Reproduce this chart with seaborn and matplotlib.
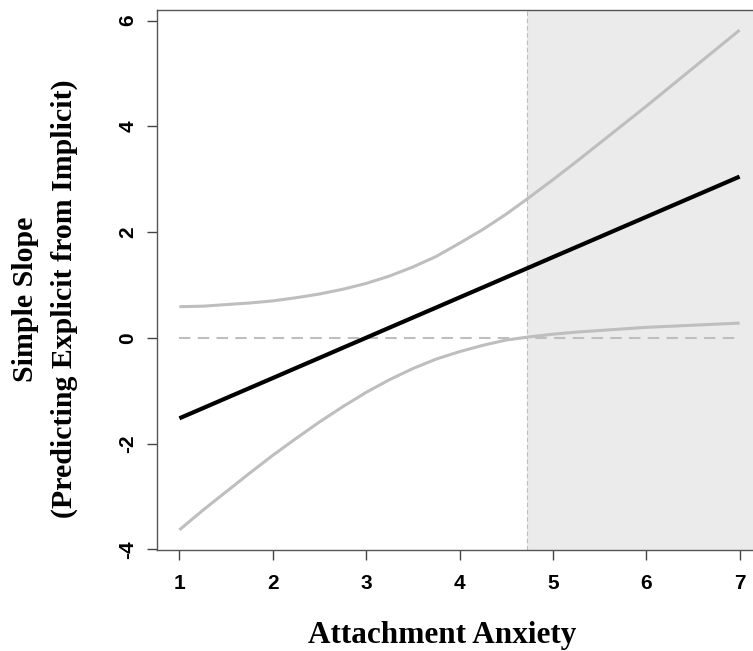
import numpy as np
import pandas as pd
import matplotlib
matplotlib.use("Agg")
import matplotlib.pyplot as plt
import seaborn as sns

# Moderator values (attachment anxiety)
anxiety = [1.00, 1.25, 1.50, 1.75, 2.00, 2.25, 2.50, 2.75, 3.00, 3.25, 3.50, 3.75,
           4.00, 4.25, 4.50, 4.75, 5.00, 5.25, 5.50, 5.75, 6.00, 6.25, 6.50, 6.75, 7.00]

# Simple slope of explicit on implicit at each anxiety level
simple_slope = [-1.520, -1.330, -1.139, -0.949, -0.759, -0.568, -0.378, -0.187, 0.003,
                0.194, 0.384, 0.574, 0.765, 0.955, 1.146, 1.336, 1.527, 1.717, 1.907,
                2.098, 2.288, 2.479, 2.669, 2.859, 3.050]

# 95% confidence band around the simple slope
ci_upper = [0.59, 0.60, 0.63, 0.66, 0.70, 0.76, 0.83, 0.92, 1.03, 1.17, 1.34, 1.54,
            1.79, 2.05, 2.34, 2.66, 2.99, 3.33, 3.68, 4.03, 4.38, 4.74, 5.10, 5.46, 5.82]
ci_lower = [-3.63, -3.26, -2.91, -2.56, -2.22, -1.90, -1.59, -1.30, -1.03, -0.79, -0.58,
            -0.40, -0.26, -0.14, -0.04, 0.02, 0.07, 0.11, 0.14, 0.17, 0.20, 0.22, 0.24,
            0.26, 0.28]

# Johnson-Neyman point: slope is significant above this value
jn_point = 4.726

x_ticks = [1, 2, 3, 4, 5, 6, 7]
y_ticks = [-4, -2, 0, 2, 4, 6]

x_title = "Attachment Anxiety"
y_title_lines = ["Simple Slope", "(Predicting Explicit from Implicit)"]

df = pd.DataFrame({"anxiety": anxiety, "slope": simple_slope,
                   "upper": ci_upper, "lower": ci_lower})

sns.set_style("white")
plt.rcParams["font.family"] = ["Liberation Sans", "DejaVu Sans"]
serif = ["Liberation Serif", "DejaVu Serif"]

fig = plt.figure(figsize=(7.53, 6.51), dpi=100)
ax = fig.add_axes([157 / 753, 1 - 550 / 651, 605 / 753, 540 / 651])

xlim = (0.76, 7.24)
ylim = (-4.01, 6.20)

# region of significance
ax.axvspan(jn_point, xlim[1], color="#ebebeb", lw=0, zorder=0)
ax.axvline(jn_point, color="#bdbdbd", lw=0.8, ls=(0, (4, 2.5)), zorder=1)

# zero reference
ax.plot([anxiety[0], anxiety[-1]], [0, 0], color="#bebebe", lw=1.5,
        ls=(0, (5.5, 3.5)), zorder=1)

sns.lineplot(data=df, x="anxiety", y="upper", color="#bebebe", lw=2.2, ax=ax,
             zorder=2, solid_capstyle="butt")
sns.lineplot(data=df, x="anxiety", y="lower", color="#bebebe", lw=2.2, ax=ax,
             zorder=2, solid_capstyle="butt")
sns.lineplot(data=df, x="anxiety", y="slope", color="black", lw=3.0, ax=ax,
             zorder=3, solid_capstyle="butt")

ax.set_xlim(*xlim)
ax.set_ylim(*ylim)
ax.set_xticks(x_ticks)
ax.set_yticks(y_ticks)
ax.set_xticklabels([str(v) for v in x_ticks])
ax.set_yticklabels([str(v) for v in y_ticks], rotation=90, va="center")

for lab in ax.get_xticklabels() + ax.get_yticklabels():
    lab.set_fontweight("bold")
    lab.set_fontsize(15)
    lab.set_color("black")
    lab.set_family(["Liberation Sans", "DejaVu Sans"])

ax.tick_params(axis="both", direction="out", length=7, width=1, color="#444444",
               bottom=True, left=True)
ax.tick_params(axis="x", pad=10)
ax.tick_params(axis="y", pad=7)

for sp in ax.spines.values():
    sp.set_color("#555555")
    sp.set_linewidth(1.0)
    sp.set_visible(True)

ax.set_xlabel("")
ax.set_ylabel("")

fig.text(442 / 753, 1 - 643 / 651, x_title, ha="center", va="baseline",
         fontsize=22.5, fontweight="bold", color="black", family=serif)

for line, base_x in zip(y_title_lines, [33, 72]):
    fig.text(base_x / 753, 1 - 299 / 651, line, ha="center", va="baseline",
             rotation=90, rotation_mode="anchor", fontsize=21.5, fontweight="bold",
             color="black", family=serif)

fig.savefig("out.png", dpi=100)
